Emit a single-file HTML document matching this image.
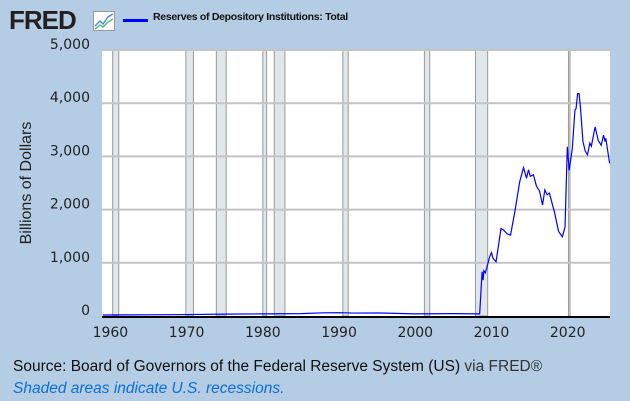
<!DOCTYPE html>
<html><head><meta charset="utf-8"><style>
body{margin:0;width:630px;height:401px;background:#b4cde5;font-family:"Liberation Sans",sans-serif;overflow:hidden;position:relative}
.t{position:absolute;white-space:nowrap}
</style></head><body>
<div class="t" style="left:9px;top:5px;font-size:26px;font-weight:bold;color:#231f20;letter-spacing:-1px">FRED</div>
<svg class="t" style="left:93px;top:11px" width="22" height="20"><rect x="0.5" y="0.5" width="21" height="19" fill="#fff" stroke="#999"/><polyline points="2,15 7,10 10,13 15,6 20,3" fill="none" stroke="#4a90d0" stroke-width="1.5"/><polyline points="2,18 7,14 10,16 15,11 20,8" fill="none" stroke="#5cb88a" stroke-width="1.5"/></svg>
<div class="t" style="left:123px;top:19px;width:25px;height:3px;background:#0000ff"></div>
<div class="t" style="left:153px;top:11px;font-size:10.5px;font-weight:bold;color:#111;letter-spacing:-0.3px">Reserves of Depository Institutions: Total</div>
<div class="t" style="left:27px;top:183px;font-size:16px;color:#222;transform:translate(-50%,-50%) rotate(-90deg)">Billions of Dollars</div>
<svg id="chart" class="t" style="left:0;top:0" width="630" height="345"></svg>
<div class="t" style="left:13px;top:358px;font-size:15.5px;color:#111">Source: Board of Governors of the Federal Reserve System (US) <span style="color:#333">via FRED®</span></div>
<div class="t" style="left:13px;top:380px;font-size:15.5px;font-style:italic;color:#0d6fd0">Shaded areas indicate U.S. recessions.</div>
<script>
const yTicks=[0,1000,2000,3000,4000,5000];
const yTickLabels=["0","1,000","2,000","3,000","4,000","5,000"];
const xTicks=[1960,1970,1980,1990,2000,2010,2020];
const recessions=[[1960.3,1961.1],[1969.9,1970.9],[1973.9,1975.2],[1980.0,1980.5],[1981.5,1982.9],[1990.5,1991.2],[2001.2,2001.9],[2007.9,2009.5],[2020.1,2020.3]];
const years=[1959,1965,1970,1975,1980,1985,1988,1990,1992,1995,2000,2005,2008.45,2008.77,2008.9,2009.0,2009.2,2009.76,2010.0,2010.2,2010.6,2011.25,2011.6,2012.0,2012.5,2013.1,2013.7,2014.2,2014.6,2014.85,2015.1,2015.5,2015.9,2016.3,2016.7,2017.0,2017.3,2017.6,2018.3,2018.8,2019.3,2019.65,2019.95,2020.2,2020.6,2020.95,2021.1,2021.3,2021.5,2021.7,2022.0,2022.3,2022.6,2022.9,2023.1,2023.6,2024.0,2024.4,2024.7,2024.9,2025.0,2025.5];
const values=[19,22,27,35,40,45,60,62,55,58,40,45,40,830,676,850,810,1114,1190,1085,1020,1645,1615,1550,1520,1990,2520,2790,2590,2750,2625,2655,2440,2350,2085,2370,2280,2310,1930,1590,1490,1675,3180,2740,3140,3870,3900,4180,4180,3870,3280,3100,3030,3250,3190,3555,3300,3210,3400,3280,3340,2870];
const L=102,R=610,T=50,B=316,x0=1958.9,x1=2025.55;
const X=v=>L+(v-x0)/(x1-x0)*(R-L), Y=v=>B-v/5000*(B-T);
const svg=document.getElementById('chart'),NS='http://www.w3.org/2000/svg';
function mk(t,a,p){const e=document.createElementNS(NS,t);for(const k in a)e.setAttribute(k,a[k]);(p||svg).appendChild(e);return e;}
const bg=mk('rect',{x:L,y:T,width:R-L,height:B-T,fill:'#fff'});


recessions.forEach(r=>{
 const e=mk('rect',{x:X(r[0]),y:T,width:X(r[1])-X(r[0]),height:B-T,fill:'#e1e6eb',stroke:'#999','stroke-width':1});
 
 
});
yTicks.forEach((v,i)=>{
 if(v>0){const g=mk('line',{x1:L,x2:R,y1:Y(v),y2:Y(v),stroke:'#c4c4c4','stroke-width':2});
 
 }
 const t=mk('text',{x:90,y:Y(v)-1,'text-anchor':'end','font-size':14,fill:'#222','font-family':'DejaVu Sans,sans-serif'});
 t.textContent=yTickLabels[i];
 
 
});
xTicks.forEach(v=>{
 const t=mk('text',{x:X(v),y:337,'text-anchor':'middle','font-size':14,fill:'#222','font-family':'DejaVu Sans,sans-serif'});
 t.textContent=v;
 
 
});
const ax=mk('line',{x1:L,x2:R,y1:B+1,y2:B+1,stroke:'#000','stroke-width':2});


const pl=mk('polyline',{points:years.map((y,i)=>X(y)+','+Y(values[i])).join(' '),fill:'none',stroke:'#0000ff','stroke-width':1.2});


</script>
</body></html>
